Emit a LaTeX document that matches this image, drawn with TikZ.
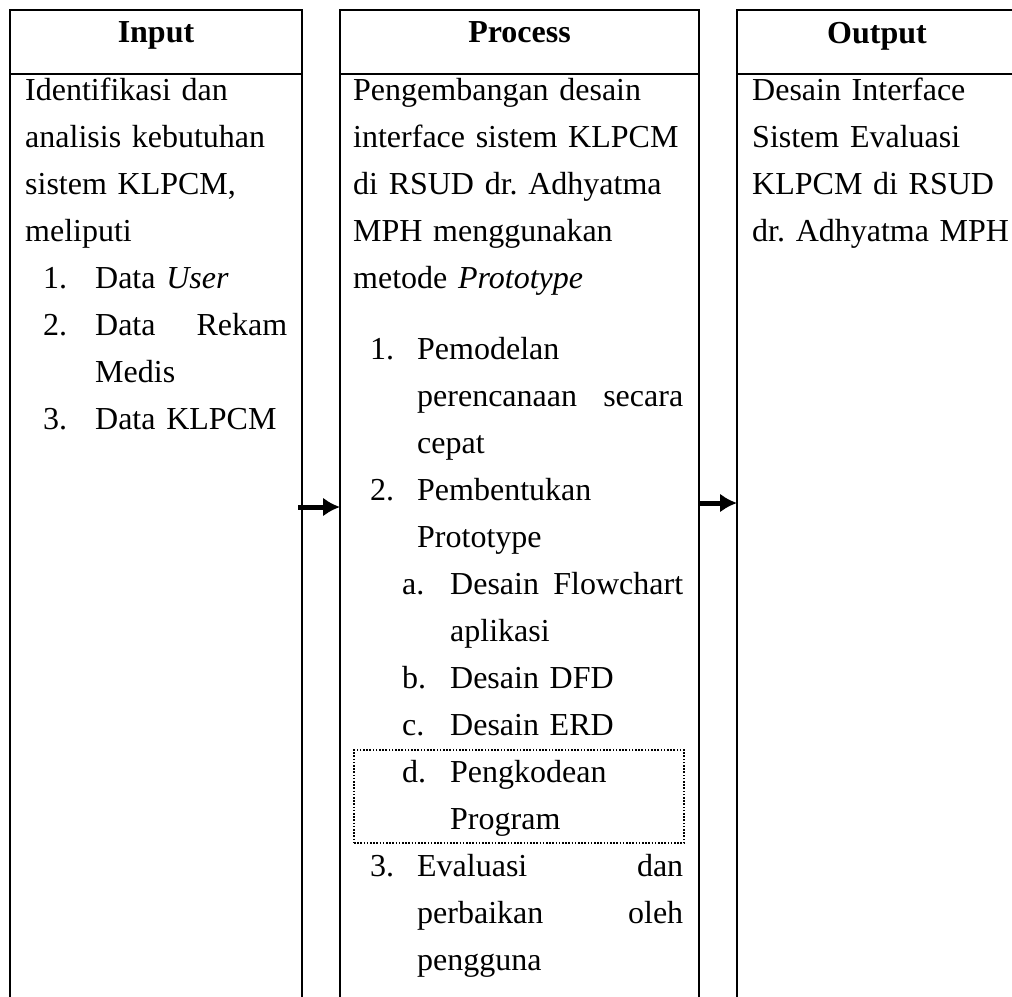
\documentclass[tikz,border=0pt]{standalone}
\usepackage{fontspec}
\setmainfont{Liberation Serif}
\usetikzlibrary{arrows.meta,positioning}
\frenchspacing

\tikzset{
  colhead/.style={draw, line width=2.2pt, outer sep=0pt, inner sep=0pt, anchor=north west,
    minimum height=64pt, text depth=19pt, font=\fontsize{32}{47}\selectfont\bfseries},
  colbody/.style={draw, line width=2.2pt, outer sep=0pt, inner sep=0pt, minimum height=940pt},
  coltext/.style={anchor=base west, inner sep=0pt, align=left, font=\fontsize{32}{47}\selectfont},
}

\begin{document}
\begin{tikzpicture}[x=1pt,y=-1pt]
\fill[white] (0,0) rectangle (1012,996);
\useasboundingbox (0,0) rectangle (1012,996);
% columns
\node (inhead) [colhead, minimum width=292pt] at (10,10) {Input};
\node (inbody) [colbody, minimum width=292pt, below=0pt of inhead] {};
\node (prochead) [colhead, minimum width=359pt] at (340,10) {Process};
\node (procbody) [colbody, minimum width=359pt, below=0pt of prochead] {};
\node (outhead) [colhead, minimum width=280pt] at (737,10) {Output};
\node (outbody) [colbody, minimum width=280pt, below=0pt of outhead] {};
% texts
\node (intext) [coltext, text width=262pt] at (25,100) {Identifikasi dan\\
analisis kebutuhan\\
sistem KLPCM,\\
meliputi\\
\hspace*{18pt}\makebox[52pt][l]{1.}Data \textit{User}\\
\hspace*{18pt}\makebox[52pt][l]{2.}\makebox[192pt][l]{Data\hfill Rekam}\\
\hspace*{70pt}Medis\\
\hspace*{18pt}\makebox[52pt][l]{3.}Data KLPCM};
\node (proctext) [coltext, text width=330pt] at (353,100) {Pengembangan desain\\
interface sistem KLPCM\\
di RSUD dr. Adhyatma\\
MPH menggunakan\\
metode \textit{Prototype}\\[24pt]
\hspace*{17pt}\makebox[47pt][l]{1.}Pemodelan\\
\hspace*{64pt}\makebox[266pt][l]{perencanaan\hfill secara}\\
\hspace*{64pt}cepat\\
\hspace*{17pt}\makebox[47pt][l]{2.}Pembentukan\\
\hspace*{64pt}Prototype\\
\hspace*{49pt}\makebox[48pt][l]{a.}\makebox[233pt][l]{Desain\hfill Flowchart}\\
\hspace*{97pt}aplikasi\\
\hspace*{49pt}\makebox[48pt][l]{b.}Desain DFD\\
\hspace*{49pt}\makebox[48pt][l]{c.}Desain ERD\\
\hspace*{49pt}\makebox[48pt][l]{d.}Pengkodean\\
\hspace*{97pt}Program\\
\hspace*{17pt}\makebox[47pt][l]{3.}\makebox[266pt][l]{Evaluasi\hfill dan}\\
\hspace*{64pt}\makebox[266pt][l]{perbaikan\hfill oleh}\\
\hspace*{64pt}pengguna};
\node (outtext) [coltext, text width=262pt] at (752,100) {Desain Interface\\
Sistem Evaluasi\\
KLPCM di RSUD\\
dr. Adhyatma MPH};
\node (progbox) [draw, line width=2pt, dash pattern=on 1.6pt off 1.6pt, anchor=north west,
  minimum width=330pt, minimum height=93pt, inner sep=0pt] at (353,749) {};
% arrows
\coordinate (ya) at (0,507);
\coordinate (yb) at (0,503);
\draw [->,>={Latex[length=17pt,width=19pt]},line width=5pt]([xshift=-4pt]inbody.east |- ya)--(procbody.west |- ya);
\draw [->,>={Latex[length=17pt,width=19pt]},line width=5pt](procbody.east |- yb)--(outbody.west |- yb);
\end{tikzpicture}
\end{document}
